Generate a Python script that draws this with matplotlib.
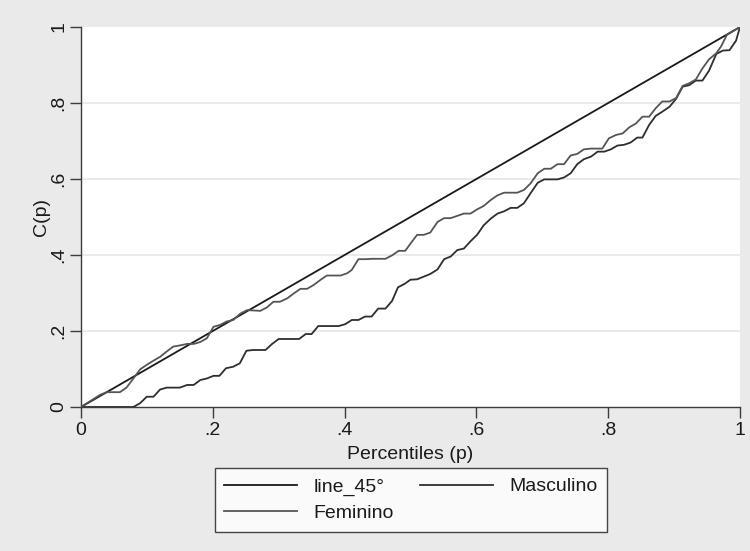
import matplotlib
matplotlib.use("Agg")
import matplotlib.pyplot as plt

plt.rcParams['font.family'] = ['Liberation Sans', 'DejaVu Sans']

# 45-degree line
line45_p = [0.0, 1.0]
line45_c = [0.0, 1.0]

# Masculino concentration curve
masc_p = [0, 0.0795, 0.0897, 0.0998, 0.110, 0.120, 0.130, 0.150, 0.161, 0.171,
          0.181, 0.191, 0.201, 0.210, 0.220, 0.231, 0.241, 0.251, 0.261, 0.280,
          0.290, 0.300, 0.331, 0.341, 0.350, 0.360, 0.391, 0.401, 0.411, 0.421,
          0.431, 0.441, 0.451, 0.462, 0.472, 0.481, 0.491, 0.500, 0.510, 0.530,
          0.541, 0.551, 0.561, 0.571, 0.581, 0.591, 0.601, 0.611, 0.622, 0.632,
          0.642, 0.652, 0.662, 0.672, 0.682, 0.693, 0.703, 0.723, 0.733, 0.743,
          0.753, 0.763, 0.774, 0.784, 0.794, 0.804, 0.814, 0.824, 0.834, 0.844,
          0.852, 0.862, 0.872, 0.882, 0.893, 0.903, 0.913, 0.923, 0.933, 0.943,
          0.953, 0.964, 0.974, 0.984, 0.994, 1.0]
masc_c = [0, 0, 0.010, 0.027, 0.027, 0.046, 0.051, 0.051, 0.058, 0.058,
          0.071, 0.075, 0.082, 0.082, 0.102, 0.106, 0.115, 0.148, 0.150, 0.150,
          0.166, 0.179, 0.179, 0.192, 0.192, 0.213, 0.213, 0.218, 0.229, 0.229,
          0.238, 0.238, 0.259, 0.259, 0.279, 0.315, 0.324, 0.335, 0.336, 0.350,
          0.362, 0.389, 0.396, 0.413, 0.417, 0.436, 0.453, 0.478, 0.496, 0.509,
          0.515, 0.524, 0.524, 0.536, 0.562, 0.590, 0.599, 0.599, 0.604, 0.615,
          0.639, 0.652, 0.659, 0.672, 0.672, 0.678, 0.688, 0.690, 0.696, 0.709,
          0.709, 0.742, 0.766, 0.777, 0.790, 0.811, 0.843, 0.847, 0.859, 0.859,
          0.885, 0.929, 0.938, 0.939, 0.964, 1.0]

# Feminino concentration curve
fem_p = [0, 0.029, 0.039, 0.059, 0.069, 0.0795, 0.0897, 0.0998, 0.110, 0.120,
         0.130, 0.140, 0.150, 0.161, 0.171, 0.181, 0.191, 0.201, 0.211, 0.221,
         0.231, 0.242, 0.252, 0.272, 0.282, 0.292, 0.302, 0.313, 0.323, 0.333,
         0.343, 0.353, 0.363, 0.373, 0.394, 0.404, 0.411, 0.421, 0.432, 0.442,
         0.462, 0.472, 0.482, 0.492, 0.500, 0.510, 0.520, 0.530, 0.541, 0.551,
         0.561, 0.571, 0.581, 0.591, 0.601, 0.611, 0.622, 0.632, 0.642, 0.662,
         0.672, 0.682, 0.693, 0.703, 0.713, 0.723, 0.733, 0.743, 0.753, 0.763,
         0.774, 0.791, 0.801, 0.812, 0.822, 0.832, 0.842, 0.852, 0.862, 0.872,
         0.882, 0.893, 0.903, 0.913, 0.923, 0.933, 0.943, 0.953, 0.964, 0.971,
         0.980, 1.0]
fem_c = [0, 0.032, 0.039, 0.039, 0.051, 0.075, 0.099, 0.111, 0.122, 0.132,
         0.146, 0.159, 0.162, 0.166, 0.166, 0.171, 0.181, 0.211, 0.216, 0.225,
         0.229, 0.246, 0.255, 0.253, 0.262, 0.277, 0.277, 0.286, 0.299, 0.311,
         0.311, 0.321, 0.334, 0.346, 0.346, 0.352, 0.361, 0.389, 0.389, 0.390,
         0.390, 0.399, 0.411, 0.411, 0.430, 0.453, 0.453, 0.459, 0.487, 0.497,
         0.497, 0.503, 0.509, 0.509, 0.520, 0.529, 0.545, 0.557, 0.564, 0.564,
         0.571, 0.588, 0.615, 0.627, 0.627, 0.639, 0.639, 0.662, 0.666, 0.678,
         0.680, 0.680, 0.707, 0.716, 0.720, 0.736, 0.746, 0.764, 0.764, 0.786,
         0.804, 0.804, 0.813, 0.845, 0.852, 0.862, 0.891, 0.915, 0.931, 0.948,
         0.979, 1.0]

tick_vals = [0, 0.2, 0.4, 0.6, 0.8, 1.0]
tick_labels = ["0", ".2", ".4", ".6", ".8", "1"]

FS = 14
bg = '#eaeaea'
fig = plt.figure(figsize=(7.5, 5.51), dpi=100, facecolor=bg)
ax = fig.add_axes([81/750, 1 - 407/551, (740 - 81)/750, (407 - 27)/551])
ax.set_facecolor('white')

h45, = ax.plot(line45_p, line45_c, color='#1a1a1a', lw=1.3, zorder=3)
hm, = ax.plot(masc_p, masc_c, color='#2e2e2e', lw=1.3, zorder=3)
hf, = ax.plot(fem_p, fem_c, color='#555555', lw=1.3, zorder=3)

ax.set_xlim(0, 1)
ax.set_ylim(0, 1)
ax.set_xticks(tick_vals)
ax.set_xticklabels(tick_labels)
ax.set_yticks(tick_vals)
ax.set_yticklabels(tick_labels, rotation=90, va='center')

for y in tick_vals[1:-1]:
    ax.axhline(y, color='#e6e6e6', lw=1.2, zorder=1)

for s in ['top', 'right']:
    ax.spines[s].set_visible(False)
for s in ['left', 'bottom']:
    ax.spines[s].set_color('#3c3c3c')
    ax.spines[s].set_linewidth(1.0)

ax.tick_params(axis='both', direction='out', length=8, width=1.0,
               color='#3c3c3c', labelsize=FS, labelcolor='#1a1a1a')
ax.tick_params(axis='x', pad=3)
ax.tick_params(axis='y', pad=2)

ax.set_xlabel('Percentiles (p)', fontsize=FS, color='#1a1a1a', labelpad=5)
ax.set_ylabel('C(p)', fontsize=FS, color='#1a1a1a', labelpad=0)

leg = fig.legend([h45, hf, hm], ['line_45°', 'Feminino', 'Masculino'],
                 ncol=2, loc='upper center', bbox_to_anchor=(411/750, 1 - 468/551),
                 fontsize=FS, frameon=True, fancybox=False, edgecolor='#1a1a1a',
                 handlelength=3.75, handletextpad=0.82, columnspacing=1.38,
                 labelspacing=0.45, borderpad=0.5, borderaxespad=0)
leg.get_frame().set_linewidth(1.0)
leg.get_frame().set_facecolor('white')
for t in leg.get_texts():
    t.set_color('#1a1a1a')

fig.savefig('out.png', dpi=100, facecolor=bg)
